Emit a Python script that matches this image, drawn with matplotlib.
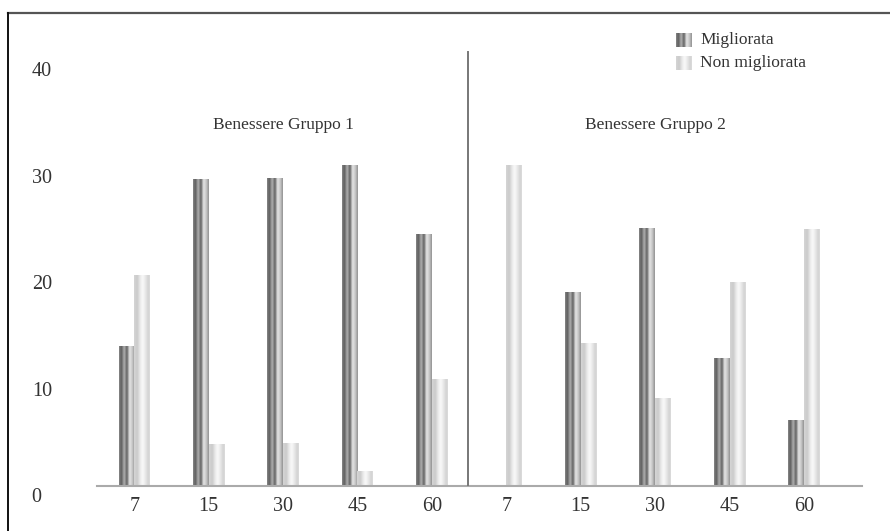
import numpy as np
import matplotlib.pyplot as plt
from matplotlib.colors import LinearSegmentedColormap
from matplotlib.lines import Line2D
from matplotlib.transforms import ScaledTranslation

days = ["7", "15", "30", "45", "60", "7", "15", "30", "45", "60"]
migliorata = [13.1, 28.8, 28.9, 30.1, 23.6, 0, 18.2, 24.2, 12.0, 6.2]
non_migliorata = [19.8, 3.9, 4.0, 1.4, 10.0, 30.1, 13.4, 8.2, 19.1, 24.1]
group_titles = ["Benessere Gruppo 1", "Benessere Gruppo 2"]
series_names = ["Migliorata", "Non migliorata"]
yticks = [0, 10, 20, 30, 40]

plt.rcParams['font.family'] = ['Liberation Serif', 'DejaVu Serif']
txt_col = '#333333'

# metallic "cylinder" shading for the bars
cm_dark = LinearSegmentedColormap.from_list('dark', [
    (0.0, '#8c8c8c'), (0.15, '#5a5a5a'), (0.33, '#b4b4b4'), (0.5, '#5c5c5c'),
    (0.66, '#e8e8e8'), (0.85, '#c4c4c4'), (1.0, '#8e8e8e')])
cm_light = LinearSegmentedColormap.from_list('light', [
    (0.0, '#d6d6d6'), (0.2, '#cacaca'), (0.4, '#ececec'), (0.55, '#fafafa'),
    (0.72, '#e8e8e8'), (0.9, '#d2d2d2'), (1.0, '#dedede')])
grad = np.linspace(0, 1, 256).reshape(1, -1)

fig = plt.figure(figsize=(8.9, 5.31), dpi=100)
ax = fig.add_axes([97/890, 1 - 486/531, 765/890, 447/531])

x = np.arange(len(days))
w = 0.21
bars_m = ax.bar(x - w/2, migliorata, w, color='none', zorder=2)
bars_n = ax.bar(x + w/2, non_migliorata, w, color='none', zorder=2)

for bars, cmap in [(bars_m, cm_dark), (bars_n, cm_light)]:
    for b in bars:
        h = b.get_height()
        if h <= 0:
            continue
        x0 = b.get_x()
        ax.imshow(grad, extent=[x0, x0 + b.get_width(), 0, h], aspect='auto',
                  cmap=cmap, interpolation='bicubic', zorder=2)

ax.set_xlim(-0.5, 9.78)
ax.set_ylim(0, 42)

ax.axvline(4.48, ymin=0, ymax=40.75/42, color='#777777', lw=1.4, zorder=3)

for gi, t in enumerate(group_titles):
    ax.text(2 + 5*gi, 33.9, t, ha='center', va='center', fontsize=12.5, color=txt_col)

for s in ['top', 'right', 'left']:
    ax.spines[s].set_visible(False)
ax.spines['bottom'].set_color('#aaaaaa')
ax.spines['bottom'].set_linewidth(1.5)

ax.set_xticks(x)
ax.set_xticklabels(days, fontsize=14.5, color=txt_col)
ax.set_yticks(yticks)
ax.set_yticklabels([str(v) for v in yticks], fontsize=14.5, color=txt_col, ha='left')
ax.tick_params(axis='both', length=0)
ax.tick_params(axis='x', pad=8)
ax.tick_params(axis='y', pad=47)
for lab in ax.get_yticklabels():
    lab.set_transform(lab.get_transform() + ScaledTranslation(0, -9/100, fig.dpi_scale_trans))

# legend with shaded swatches
for i, (name, cmap) in enumerate(zip(series_names, [cm_dark, cm_light])):
    yc = 40 + 23*i
    sw = fig.add_axes([676/890, 1 - (yc + 7)/531, 16/890, 14/531])
    sw.imshow(grad, aspect='auto', cmap=cmap, interpolation='bicubic')
    sw.axis('off')
    fig.text(700/890, 1 - yc/531, name, ha='left', va='center', fontsize=12.5, color=txt_col)

# frame lines of the original page
fig.add_artist(Line2D([8/890, 1], [1 - 13/531, 1 - 13/531], transform=fig.transFigure,
                      color='#555555', lw=1.6))
fig.add_artist(Line2D([8/890, 8/890], [0, 1 - 13/531], transform=fig.transFigure,
                      color='#111111', lw=1.4))

fig.savefig('out.png', dpi=100)
